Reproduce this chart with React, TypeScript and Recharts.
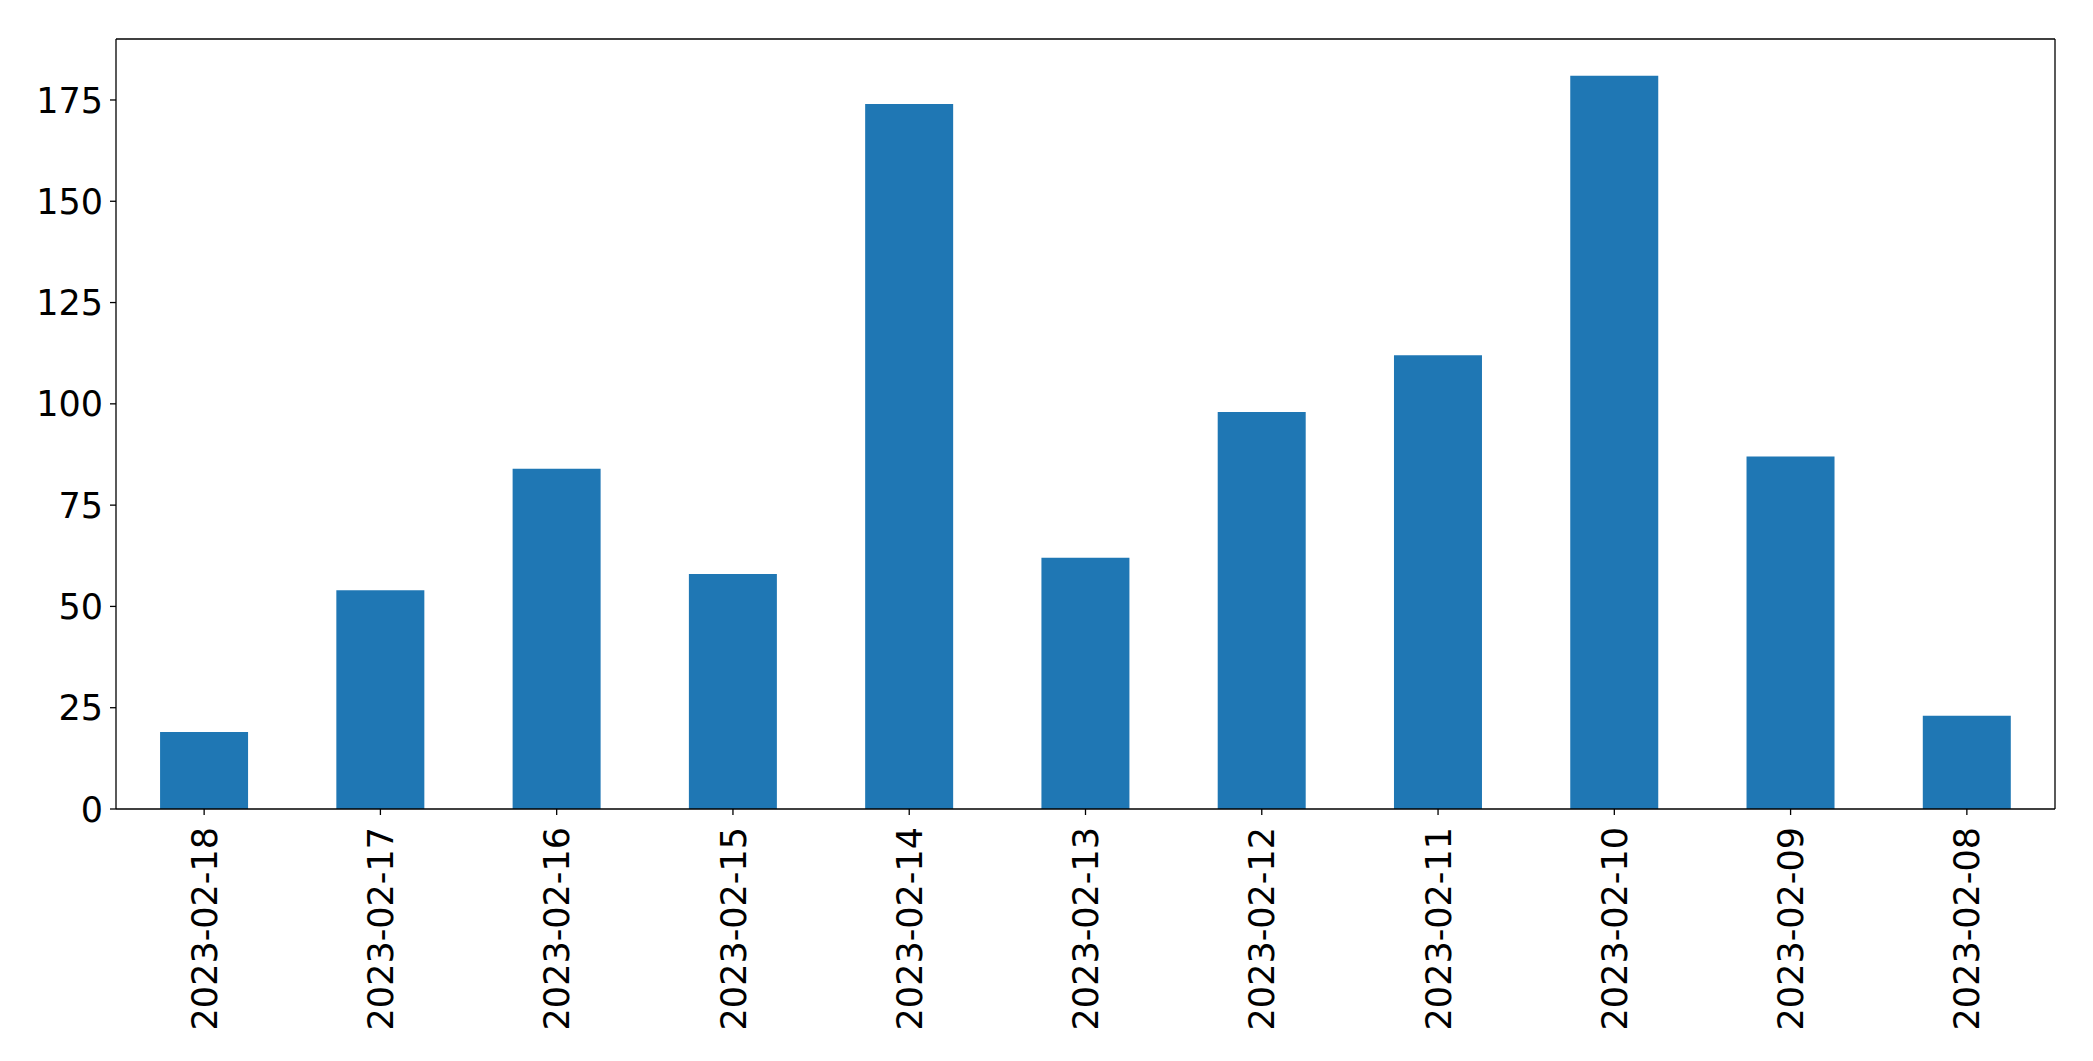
import { Bar, BarChart, ReferenceLine, XAxis, YAxis } from 'recharts';

const dates = [
  '2023-02-18',
  '2023-02-17',
  '2023-02-16',
  '2023-02-15',
  '2023-02-14',
  '2023-02-13',
  '2023-02-12',
  '2023-02-11',
  '2023-02-10',
  '2023-02-09',
  '2023-02-08'
];
const counts = [19, 54, 84, 58, 174, 62, 98, 112, 181, 87, 23];
const yTicks = [0, 25, 50, 75, 100, 125, 150, 175];
const yMax = 190.05;

const data = dates.map((d, i) => ({ date: d, count: counts[i] }));

const FONT = '"DejaVu Sans", sans-serif';
const FS = 35;
const LINE = { stroke: '#000', strokeWidth: 1.3 };

function DateTick({ x, y, payload }: any) {
  return (
    <g transform={`translate(${x},${y})`}>
      <text transform="rotate(-90)" textAnchor="end" dy="0.36em" fill="#000" fontSize={FS} fontFamily={FONT}>
        {payload.value}
      </text>
    </g>
  );
}

function CountTick({ x, y, payload }: any) {
  return (
    <text x={x} y={y} textAnchor="end" dy="0.36em" fill="#000" fontSize={FS} fontFamily={FONT}>
      {payload.value}
    </text>
  );
}

export default function App() {
  return (
    <div style={{ position: 'absolute', left: 0, top: 0, background: '#fff' }}>
      <BarChart
        width={2093}
        height={1061}
        data={data}
        margin={{ top: 39, right: 37, left: 0, bottom: 0 }}
        barCategoryGap="25%"
      >
        <XAxis
          dataKey="date"
          height={252}
          interval={0}
          tick={<DateTick />}
          tickSize={6}
          tickMargin={12}
          axisLine={LINE}
          tickLine={LINE}
        />
        <YAxis
          type="number"
          domain={[0, yMax]}
          ticks={yTicks}
          width={116}
          tickSize={6}
          tickMargin={7}
          tick={<CountTick />}
          axisLine={LINE}
          tickLine={LINE}
        />
        <YAxis yAxisId="right" orientation="right" type="number" domain={[0, yMax]} width={1} tick={false} tickLine={false} axisLine={LINE} />
        <Bar dataKey="count" fill="#1f77b4" isAnimationActive={false} />
        <ReferenceLine y={yMax} stroke="#000" strokeWidth={1.3} />
      </BarChart>
    </div>
  );
}
